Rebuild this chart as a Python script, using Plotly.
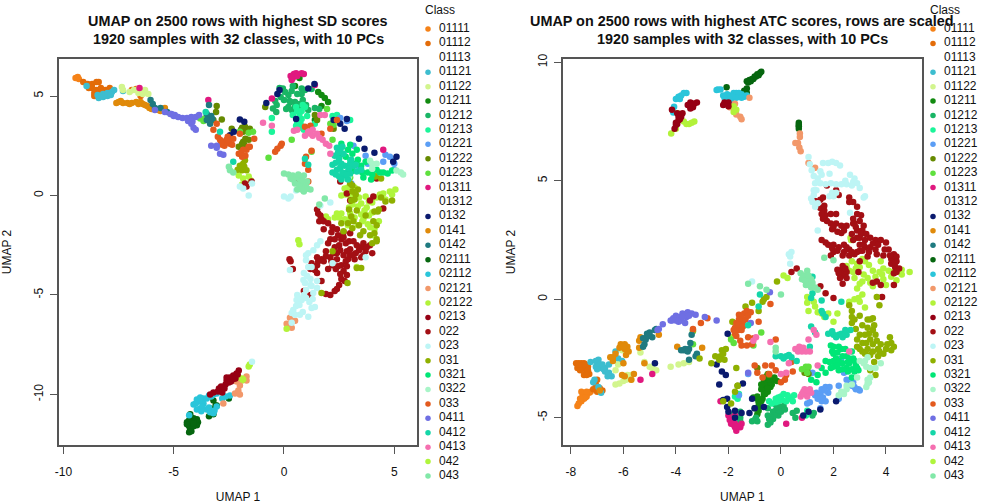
import plotly.graph_objects as go

classes = ["01111","01112","01113","01121","01122","01211","01212","01213","01221","01222","01223","01311","01312","0132","0141","0142",
           "02111","02112","02121","02122","0213","022","023","031","0321","0322","033","0411","0412","0413","042","043"]
colors = ["#F58218","#E36C09","#FFFFFF","#3DBDCF","#D2F58E","#128A10","#19B565","#1BF59A","#5B9EF5","#668A00","#5FE03E","#E0187F","#FFFFFF","#0A1A6E","#E08A0A","#1F7A80",
          "#06660F","#2AC5DA","#F2986A","#B3F23A","#960014","#A30F14","#BDF5F5","#8FB000","#00E676","#A8F5C8","#E35A1E","#6F6FE3","#14D6A8","#F56FB0","#B0F53C","#82E8A8"]
title_left = ["UMAP on 2500 rows with highest SD scores", "1920 samples with 32 classes, with 10 PCs"]
title_right = ["UMAP on 2500 rows with highest ATC scores, rows are scaled", "1920 samples with 32 classes, with 10 PCs"]

# ---- left panel (SD) ----
SD_01111 = [(-9.45,5.9),(-9.3,5.85),(-9.35,5.95)]
SD_01112 = [(-9.1,5.7),(-8.9,5.6),(-8.7,5.6),(-8.5,5.7),(-8.4,5.7),(-8.7,5.4),(-8.5,5.3),(-8.6,5.0),(-8.4,5.0),(-8.3,5.4),(-8.1,5.3),(-7.9,5.4),(-6.9,5.3),(-6.7,5.35),(-6.5,5.0),(-8.85,5.4),(-8.6,5.15),(-8.8,5.5),(-8.25,5.2),(-8.05,5.2)]
SD_01121 = [(-8.95,5.5),(-8.4,4.9),(-8.2,4.95),(-8.0,5.0),(-7.8,5.2),(-7.7,5.3),(-8.2,5.1),(-7.3,5.25),(-8.3,5.0),(-8.1,5.05),(-8.0,5.15),(-7.85,5.05),(-8.45,5.05)]
SD_01122 = [(-7.35,5.45),(-7.0,5.2),(-6.8,5.3),(-6.6,5.35),(-6.3,5.3),(-6.15,5.1),(-6.6,5.15),(-6.4,5.1),(-7.3,5.3)]
SD_01211 = [(1.7,5.05),(1.85,4.9),(2.0,4.7),(1.55,5.2),(0.7,5.9),(1.7,4.5),(1.5,3.95),(1.4,3.8),(0.5,5.5)]
SD_01212 = [(-0.05,5.38),(0.4,5.5),(0.8,5.38),(0.2,5.05),(-0.5,4.37),(-0.33,4.55),(0,4.8),(0.5,4.45),(0.7,4.35),(0.5,4.7),(0.2,4.45),(0.85,4.8),(0.8,5.1),(1.1,4.3),(1.6,4.35),(0.3,4.7),(0.95,5.3),(-0.2,5.4),(0.25,4.75),(0.55,4.4),(0.05,5.2),(0.35,5.25),(0.6,5.1),(-0.15,4.95),(-0.4,4.75),(0.1,4.35),(0.35,4.3),(0.7,4.6),(1.0,4.55),(1.25,5.35),(1.4,4.4),(-0.35,4.2)]
SD_01213 = [(0.55,4.45),(0.7,4.1),(0.65,3.85),(0.55,3.5),(0.95,4.45),(0.4,4.05),(-0.55,3.9),(-0.55,3.2),(1.4,3.6),(2.2,4),(2.4,4.05),(3,3.8),(0.8,3.85),(3,1.8),(3.3,1.6),(1.05,4.0),(0.75,3.6),(0.6,4.25),(0.8,4.25),(0.6,3.65),(0.7,3.4),(0.9,3.3),(0.85,4.55)]
SD_01221 = [(3.15,2.5),(3.7,2.0),(3.75,1.7),(3.8,1.6),(4.6,2.05),(4.8,1.95),(4.95,1.8),(5,1.6),(4.5,1.7),(3.05,0.6),(3.4,1.45),(2.55,3.9),(2.85,3.75),(5.0,1.3)]
SD_01222 = [(-3.05,4.5),(-3.08,4.2),(-2.82,3.82),(-3.2,3.8),(-2.37,3.35),(-1.9,3.4),(-1.77,3.45),(-1.55,3.35),(-1.85,2.7),(-1.6,2.8),(-2.05,2.45),(-1.9,2.6),(-0.85,4.45),(1.4,4.05),(1.5,3.8),(2.25,3.35),(-1.85,3.2),(-1.85,3.35),(-1.7,3.25),(-1.95,3.3),(-1.75,2.85),(-1.8,2.55)]
SD_01223 = [(-3.8,3.87),(-3.65,3.75),(-3.55,3.9),(-1.6,3.15),(-1.4,3.2),(-2.0,3.2),(0.35,2.8),(1.25,2.2),(2.25,3.55),(2.1,3.6),(1.95,4.35),(2.2,2.8),(-0.7,1.9),(4.1,1.0),(3.0,0.9)]
SD_01311 = [(-6.55,5.4),(-3.43,4.8),(0.3,6.0),(0.35,5.8),(0.45,6.1),(0.55,6.15),(0.4,5.9),(0.6,6.0),(0.8,6.15),(0.9,6.1),(-0.55,4.88),(1.4,5.55),(4.5,2.3)]
SD_0132 = [(-2.0,3.82),(-1.8,3.7),(-2.27,3.2),(-2.45,3.03),(-0.8,4.65),(-0.2,5.3),(-0.3,5.1),(0.55,3.85),(1.1,5.38),(1.38,5.6),(2.25,3.8),(2.55,3.6),(2.85,3.85),(2.75,3.35),(3.4,2.85),(3.65,2.35),(4.1,2.15),(5.1,1.95),(4.95,1.7)]
SD_0141 = [(-7.5,4.7),(-7.3,4.65),(-7.1,4.65),(-6.9,4.65),(-6.7,4.7),(-6.5,4.7),(-6.4,4.6),(-6.2,4.5),(-6.1,4.4),(-5.9,4.4),(-5.7,4.3),(-5.5,4.35),(-5.4,4.4),(-7.4,4.75),(-7.0,4.6),(-6.6,4.6),(-6.3,4.55),(-6.0,4.35),(-7.6,4.65),(-5.6,4.25)]
SD_0142 = [(-6.05,4.8),(-5.95,4.6),(-5.85,4.4),(-5.6,4.4),(-5.3,4.2),(-3.5,4.1),(-3.4,3.95),(-3.3,4.0),(-3.25,3.85),(-3.5,3.8),(-3.4,4.55),(-3.35,3.6)]
SD_02111 = [(-3.2,-10.3),(-3.1,-10.55),(-3.35,-10.7),(-3.05,-10.55),(-3.2,-11),(-3.4,-11.1),(-2.5,-10.2),(-4.25,-11),(-4.2,-11.25),(-4.4,-11.4),(-4.25,-11.5),(-4,-11.4),(-3.9,-11.4),(-3.95,-11.55),(-4.25,-11.75),(-4.3,-11.6),(-4.1,-11.6),(-4.1,-11.2),(-4.15,-11.35),(-4.3,-11.3),(-3.95,-11.25),(-4.1,-11.45),(-4.3,-11.9),(-4.2,-11.85),(-4.4,-11.5)]
SD_02112 = [(-3.05,-9.95),(-3.4,-10.05),(-3.65,-10.2),(-3.95,-10.25),(-4.1,-10.5),(-3.8,-10.7),(-3.5,-10.75),(-3.2,-10.95),(-3.05,-10.6),(-2.8,-10.2),(-2.45,-10.05),(-3.65,-10.45),(-3.95,-10.75),(-3.5,-10.2),(-4.3,-11.05),(-3.35,-10.9),(-3.8,-10.15),(-3.85,-10.35),(-3.7,-10.6),(-3.3,-10.1),(-3.2,-10.0),(-3.4,-10.65),(-2.65,-10.1),(-4.0,-10.45),(-3.75,-10.85),(-3.15,-10.8)]
SD_02121 = [(0.12,-6.45),(0.27,-6.15),(0.5,-6.3),(0.35,-6.65),(-2.22,-9.95),(-2.07,-9.8),(-2,-9.55),(-1.7,-9.1),(-1.7,-9.3),(-2.75,-10.45),(-2.15,-9.35),(-2.0,-10.0)]
SD_02122 = [(0.12,-6.7),(-1.9,-9.2),(-1.85,-9.25),(-2.05,-9.15)]
SD_0213 = [(-2.05,-8.8),(-2.3,-9.05),(-2.45,-9.15),(-2.6,-9.3),(-2.65,-9.5),(-2.95,-9.7),(-2.8,-9.9),(-3.2,-9.9),(-3.35,-10),(-2.15,-8.95),(-2.4,-9.35),(-2.6,-9.15),(-2.1,-9.0),(-2.25,-9.2),(-2.35,-9.25),(-2.5,-9.4),(-2.85,-9.6),(-3.0,-9.85),(-2.2,-9.2),(-2.7,-9.7)]
SD_022 = [(-1.47,0.7),(-1.77,0.6),(-1.7,0.45),(0.5,0.75),(0.55,0.65),(2.55,0.7),(4.2,0.85),(4.05,-0.05),(3.9,-0.25),(4.5,-0.65),(2.85,0.1),(3.0,-0.25),
          (1.5,-0.7),(1.65,-1.0),(1.6,-1.3),(1.8,-1.3),(1.8,-1.7),(2.2,-1.6),(2.4,-1.7),(2.7,-1.85),(3.0,-1.9),(2.1,-2.2),(2.3,-2.2),(2.0,-2.4),(2.3,-2.6),(2.6,-2.2),(2.8,-2.4),(3,-2.7),(3.3,-2.5),(3.5,-2.6),(3.7,-2.8),(3.9,-2.5),(4.0,-2.9),(2.4,-2.9),(2.7,-3),(2.1,-3.1),(3.0,-3.0),(3.2,-3.2),(1.7,-3.2),(1.8,-3.3),(1.5,-3.1),(1.25,-3.4),(1.5,-3.5),(1.2,-3.7),(1.5,-3.9),(2.2,-3.5),(2.35,-3.7),(2.7,-3.8),(2.85,-4.0),(2.6,-4.2),(2.5,-4.5),(2.3,-4.8),(2.1,-5.0),(2.6,-3.5),(2.0,-3.7),(1.2,-5.0),(0.9,-4.8),(0.3,-3.3),(0.4,-3.7),(0.25,-3.2),(1.9,-2.8),(3.5,-3.1),(2.5,-2.5),
          (1.55,-0.9),(1.7,-1.2),(2.0,-1.4),(2.15,-1.85),(2.45,-2.0),(2.7,-2.1),(2.95,-2.3),(3.15,-2.3),(3.4,-2.75),(3.6,-2.4),(3.75,-2.6),(2.25,-2.9),(2.55,-2.75),(2.85,-2.8),(3.25,-2.9),(1.9,-3.05),(2.4,-3.2),(2.8,-3.3),(1.55,-3.3),(1.4,-3.75),(2.15,-3.3),(2.45,-3.55),(2.85,-3.55),(2.55,-3.95),(2.75,-4.3),(2.4,-4.7),(1.9,-4.95),(1.7,-4.3),(2.9,-3.2),(3.1,-3.0),(3.6,-3.0)]
SD_023 = [(-2.0,0.45),(-1.85,0.35),(-1.6,0.0),(-1.45,0.6),(0,-0.05),(0.2,-0.15),(0.3,-0.05),(0.55,0.25),(1.65,-0.5),(2.1,-0.35),(-1.45,-8.35),
          (0.88,-4.25),(0.95,-4.4),(1.0,-4.75),(1.33,-4.9),(1.4,-5.6),(1.25,-5.65),(0.57,-5.25),(0.42,-5.75),(0.8,-5.25),(1.1,-6.1),(0.72,-6),(0.35,-5.9),(0.35,-6.4),(0.27,-3.75),(1,-3.25),(1.25,-3.6),(1.33,-2.75),(1.5,-4.65),(2.2,-3.4),(3.7,-3.1),(1.5,-2.5),(0.9,-3.9),(0.6,-5.0),(0.9,-5.0),(1.2,-4.2),
          (1.1,-3.6),(1.05,-4.05),(1.2,-4.5),(1.0,-5.15),(1.15,-5.35),(0.7,-5.5),(0.55,-5.55),(1.3,-5.2),(0.65,-5.15),(1.25,-4.55),(1.5,-4.3),(1.0,-3.0),(1.1,-2.9),(1.65,-2.3),(0.85,-5.85),(0.5,-6.0)]
SD_031 = [(-1.85,1.6),(-1.9,1.27),(-2.0,1.5),(-1.7,1.27),(-1.77,1.77),(3.0,0.6),(3.1,0.2),(3.35,0.3),(3.2,-0.2),(4.15,0.95),(4.4,0.85),(4.05,-1.3),(4.4,-0.1),(4.9,-0.25),(4.6,-0.3),(3.3,-0.75),(3.05,-1.05),(3.15,-1.3),(4.1,-0.8),(4.25,-0.8),(4.3,-0.7),(3.45,-2.0),(3.6,-1.8),(2.9,-1.4),(2.7,-1.8),(4.1,-1.9),(4.2,-2.3),(4.2,-2.2),(3.1,0.5),(2.88,-4.4),(1.7,-4.9),(3.3,-3.65),(3.5,-3.65),(2.2,-2.8),
          (3.25,0.05),(3.05,-0.25),(2.95,-0.7),(3.1,-1.65),(3.4,-1.5),(2.6,-1.4),(4.2,-1.5),(3.9,-2.0),(4.0,-2.4),(3.7,-1.0),(-1.95,1.4),(-2.1,1.3),(-1.8,1.45)]
SD_0321 = [(2.9,2.3),(3.1,2.1),(3.2,1.6),(3.5,1.5),(3.7,1.7),(4.2,1.3),(4.0,1.05),(3.8,1.15),(2.6,2.6),(2.8,1.95),(3.05,1.2),(4.9,1.25),(4.5,1.15),(3.6,0.9),(3.95,0.8),(2.95,1.5),(3.1,1.4),(3.35,1.8),(3.55,1.15),(4.35,1.15),(4.7,1.1),(3.3,2.3),(3.0,2.55),(2.55,2.05)]
SD_0322 = [(3.9,1.75),(4,1.6),(5.3,1.15),(5.4,1.05),(4,1.35),(2.95,0.95),(2.8,0.85),(4.2,1.6),(5.1,1.25)]
SD_033 = [(-3.2,3.3),(-3.05,3.6),(-3,2.95),(-2.6,2.8),(-2.75,2.7),(-2.45,2.6),(-2.9,2.8),(-2.7,2.5),(-2.3,2.85),(-2,3.1),(-1.55,2.45),(-1.35,2.85),(-1.75,2.0),(-1.9,1.95),(-1.7,2.3),(-1.6,2.45),(-2.05,2.1),(-0.4,2.2),(-0.3,2.35),(-0.15,2.5),(-0.1,2.6),(0.95,3.45),(1.2,3.5),(1.1,3.2),(1.0,1.95),(0.95,1.6),(1.1,1.3),(1.1,0.7),(1.25,2.25),(1.7,3.1),(2.1,3.35),(2.4,3.8),(-2.8,2.55),(-2.55,2.95),(-2.65,2.65),(-2.5,2.75),(-2.85,2.65),(-1.95,2.15),(-1.85,2.3),(-2.35,2.55)]
SD_0411 = [(-5.85,4.3),(-5.4,4.2),(-5.1,4.1),(-4.95,4.05),(-5.15,4.1),(-5,4),(-4.8,3.95),(-4.6,3.9),(-4.4,3.9),(-4.2,3.95),(-4.0,3.95),(-3.85,4.05),(-4.35,3.75),(-4.2,3.6),(-4.1,3.4),(-4.0,3.3),(-4.15,3.7),(-3.3,2.5),(-3.05,2.5),(-2.9,2.1),(-2.75,2.05),(-3.05,2.4)]
SD_0412 = [(-3.55,4.2),(-2.9,3.2),(-2.3,1.7),(2.4,2.4),(2.55,2.3),(2.7,2.1),(2.3,2.0),(2.5,1.85),(2.6,1.6),(2.75,1.5),(2.9,1.2),(2.4,1.3),(3.15,1.5),(3.0,1.1),(2.2,1.55),(2.2,1.15),(2.5,0.95),(2.75,1.0),(2.9,0.8),(3.3,1.2),(1.1,1.55),(0.95,1.85),(3.5,1.3),(2.65,1.15),(3.0,1.6),(2.35,1.65),(2.55,1.4),(2.85,1.05),(2.95,1.35),(3.25,1.55),(2.45,2.15),(2.65,2.45),(2.35,1.05),(2.6,0.8),(3.05,1.8)]
SD_0413 = [(-0.95,3.65),(-0.55,3.5),(0.45,3.25),(0.6,3.3),(1.1,3.2),(1.2,3.1),(1.3,3.0),(0.95,3.0),(1.3,3.3),(1.6,2.9),(1.75,2.8),(1.9,2.6),(2.05,2.5),(1.65,4.05),(1.85,4.05),(2.1,2.1),(1.5,3.1)]
SD_042 = [(2.9,0.4),(3,0.5),(2.75,0.35),(2.6,0),(2.8,0.05),(3.2,0.4),(3.4,-0.1),(3.7,-0.05),(4.2,-0.1),(4.5,0.1),(4.8,0.2),(5.05,0.3),(4.6,-0.2),(3.1,-0.45),(3.35,-0.55),(3.75,-0.6),(4,-0.85),(3.2,-1.1),(3.55,-1.3),(1.9,-1.05),(2.3,-1.1),(2.5,-1.1),(2.6,-0.9),(2.9,-1.5),(3.6,-1.2),(3.9,-1.6),(4.1,-1.7),(0.65,-2.25),(0.7,-2.45),(-2.05,1.0),(-1.85,0.85),(-1.6,0.95),(-1.5,0.75),(-1.9,0.55),(-1.55,-8.5),(-1.6,-8.6),(-1.9,-9.3),(3.3,-3.6),
          (2.4,-0.9),(2.0,-1.2),(2.75,-1.2),(3.0,-0.9),(3.5,-0.95),(3.85,-1.0),(4.3,-1.3),(3.85,-0.3),(4.35,0.05),(4.9,0.05),(3.0,0.0),(3.25,0.0),(2.95,-0.6),(3.5,-0.4),(4.0,-0.35),(3.65,-0.75),(3.35,-1.5),(3.8,-1.45),(4.05,-2.0),(3.0,-1.15)]
SD_043 = [(0,1.1),(0.2,1.05),(0.4,1),(0.55,0.9),(0.7,0.85),(0.9,1.0),(0.8,0.6),(0.9,0.4),(0.95,0.3),(1.2,0.3),(0.7,0.4),(0.6,0.3),(1.05,0.7),(0.9,0.2),(1.85,-0.15),(1.6,-0.45),(-2.5,1.45),(-2.45,1.27),(-2.3,1.15),(0.3,0.85),(0.75,0.65),(0.5,0.6),(0.7,0.55),(1.0,0.45),(0.85,0.75),(0.4,0.8),(0.65,1.05),(1.05,0.35),(0.8,0.3)]

# ---- right panel (ATC) ----
AT_01111 = [(-7.75,-4.5),(-7.7,-4.4),(-7.6,-4.3),(-7.55,-4.05),(-7.45,-4.0),(-7.3,-3.95),(-7.25,-3.9),(-7.4,-4.1),(-7.5,-4.2),(-7.6,-3.9),(-7.45,-4.15),(-7.65,-4.2),(-7.4,-3.9)]
AT_01112 = [(-7.8,-2.7),(-7.7,-2.7),(-7.6,-2.7),(-7.5,-2.7),(-7.75,-2.9),(-7.6,-2.95),(-7.45,-2.9),(-7.4,-3.05),(-7.3,-3.15),(-7.5,-3.2),(-7.35,-2.85),(-7,-3.4),(-7.05,-3.6),(-7.15,-3.8),(-6.9,-3.75),(-7.0,-3.9),(-6.8,-3.85),(-7.65,-2.85),(-7.55,-2.8),(-7.7,-2.8),(-7.45,-2.75),(-7.35,-3.0),(-7.4,-3.2),(-7.65,-3.0)]
AT_01121 = [(-7.25,-2.65),(-7.05,-2.6),(-6.95,-2.55),(-7.05,-2.85),(-6.85,-2.9),(-6.7,-2.9),(-6.55,-2.75),(-6.9,-2.75),(-6.45,-3.25),(-6.6,-3.25),(-6.7,-3.05),(-6.3,-2.2),(-6.2,-2.5),(-6.05,-2.6),(-7.1,-3.4),(-7.15,-3.5),(-6.95,-3.7),(-6.85,-3.95),(-6.95,-2.85),(-6.8,-2.75),(-7,-2.95),(-6.75,-2.95),(-6.55,-3.1)]
AT_01122 = [(-6.3,-3.6),(-6.15,-3.55),(-6,-3.45),(-5.9,-3.4),(-5.85,-3.2),(-5.7,-3.2),(-5.7,-3.4),(-6.2,-2.75),(-6.3,-3.0),(-6.05,-2.15),(-5.35,-2.25),(-5.2,-2.65),(-5,-2.85),(-4.9,-2.9),(-4.75,-3),(-4.2,-2.85),(-3.9,-2.75),(-3.7,-2.7),(-3.5,-2.65)]
AT_01211 = [(-0.7,-3.6),(-0.6,-3.8),(-0.5,-3.9),(-0.4,-3.7),(-0.65,-3.4),(-0.55,-3.25),(-0.3,-3.4),(-0.15,-3.45),(-0.35,-3.6),(-0.25,-3.3),(-0.7,-4.2),(-0.9,-4.2),(-1.05,-4.15),(-0.75,-4.3),(-0.9,-4.6),(-0.85,-4.5),(-0.9,-4.85),(-1,-4.6),(-0.65,-4.0),(-0.55,-3.55),(-0.5,-3.75),(-0.75,-3.8),(-0.75,-3.6),(-0.6,-4.0),(-0.4,-3.5),(-0.45,-3.4),(-0.85,-4.35),(-0.85,-4.7),(-0.9,-4.1)]
AT_01212 = [(-1.1,-5.15),(-0.9,-5.15),(-0.95,-5),(-0.5,-5.3),(-0.3,-5.05),(-0.4,-5.2),(-0.1,-4.9),(-0.2,-4.7),(-0.05,-4.6),(0,-4.75),(0.1,-4.5),(-0.2,-4.45),(-0.5,-4.9),(-0.1,-4.5),(0.45,-4.8),(0.55,-5),(0.6,-4.7),(1.25,-4.8),(1.2,-4.9),(-1.55,-5.0),(-1.55,-5.15),(-1.55,-4.75),(-1.95,-4.85),(-0.5,-4.6),(-0.3,-4.75),(-0.1,-4.7),(-0.25,-4.9),(-0.15,-4.55),(-0.4,-4.95),(-1.0,-5.1),(-0.45,-5.05),(0.15,-4.65)]
AT_01213 = [(-0.35,-4.4),(-0.2,-4.2),(0,-4.1),(0.1,-4),(0.3,-4.2),(0.4,-4.15),(0.2,-4.3),(-0.1,-4.3),(0.5,-4.05),(-1.75,-4.1),(-1.65,-4.2),(-1.6,-4),(1.0,-4.7),(0.95,-4.9),(-0.2,-4.35),(0.05,-4.25),(0.25,-4.05),(0.45,-4.3),(-0.1,-4.15),(-0.45,-4.3)]
AT_01221 = [(1.3,-4.05),(1.55,-4.3),(1.5,-4.0),(1.55,-3.8),(1.7,-3.7),(1.85,-3.7),(1.8,-3.95),(1.4,-4.2),(1.1,-4.35),(1,-4.4),(1.5,-4.6),(1.7,-4.3),(2.2,-3.65),(2.6,-3.55),(2.7,-3.65),(2.8,-3.7),(2.95,-3.8),(3,-3.85),(2.5,-3.4),(2.2,-4.2),(1.2,-3.1),(2.25,-2.7),(2.3,-2.5),(2.4,-3.1),(-1.6,-4.05),(-1.25,-3.15),(1.65,-3.85),(1.45,-4.1),(1.6,-4.15),(1.35,-3.95),(2.75,-3.5),(2.85,-3.8)]
AT_01222 = [(-1.65,-3.65),(1,-2.95),(-0.9,-2.9),(0.95,-3),(0.9,-3.1),(1.05,-3.15),(-0.5,-3.15),(-0.45,-3.2)]
AT_01223 = [(0.8,-2.95),(0.95,-2.85),(1.0,-3.1),(1.05,-2.85),(-1.05,-1.95),(-1.9,-1.7),(-1.8,-1.85),(-3.35,-1.35),(-3.35,-1.9),(-0.75,-1.4)]
AT_01311 = [(-5.35,-3.4),(-4.9,-3.15),(-2.3,-4.3),(-2.0,-4.9),(-1.95,-5.1),(-1.85,-5.2),(-1.75,-5.4),(-1.7,-5.55),(-1.8,-5.3),(-1.55,-5.4),(-1.5,-5.25),(-1.75,-4.9),(0.2,-5.25),(0.8,-5),(-1.85,-5.1),(-1.75,-5.25),(-1.9,-5.25),(-1.65,-5.35)]
AT_0132 = [(-4.8,-2.7),(-2.45,-2.75),(-2.25,-3.05),(-2.1,-3.2),(-2.35,-3.6),(-2.03,-1.45),(-1.45,-3.55),(-2.2,-4.25),(-2.05,-4.2),(-2.05,-4.55),(-1.75,-4.7),(-1.5,-4.8),(-1.75,-5),(-2,-4.75),(-1.2,-4.8),(-1.0,-4.6),(-1.1,-4.2),(-0.65,-4.55),(0.85,-4.9),(1.05,-4.75),(1.5,-4.65),(2.1,-4.3)]
AT_0141 = [(-6.1,-1.9),(-5.95,-1.9),(-5.85,-2.0),(-6.15,-2.05),(-5.9,-2.35),(-5.8,-2.2),(-6,-2.7),(-6.5,-2.45),(-6.4,-2.6),(-6.3,-2.3),(-5.4,-1.75),(-5.35,-1.6),(-5.1,-1.55),(-5.4,-2.05),(-5.2,-2.7),(-3.95,-2),(-3.35,-1.3),(-4.65,-1.5),(-6.05,-3.2),(-5.95,-3.25),(-5.6,-3.15),(-5.7,-3.4),(-6.9,-3.85),(-3,-2.05),(-5.95,-2.1),(-6.0,-2.0),(-6.4,-2.45)]
AT_0142 = [(-5.1,-1.45),(-5.0,-1.4),(-4.8,-1.3),(-4.75,-1.25),(-4.9,-1.6),(-5.25,-1.65),(-5.25,-2.0),(-5.2,-1.9),(-3.7,-2.15),(-3.6,-2.15),(-3.5,-2.1),(-3.8,-2.15),(-3.45,-1.85),(-3.4,-1.5),(-3.2,-2.3),(-3.25,-2.4),(-3.5,-2.55),(-3.65,-2.1),(-3.55,-2.2),(-5.15,-1.7),(-5.05,-1.55)]
AT_02111 = [(-1.3,9.2),(-1.2,9.25),(-1.1,9.3),(-1.0,9.4),(-0.9,9.5),(-0.8,9.55),(-0.75,9.6),(-2.07,8.95),(-1.3,8.9),(-1.3,8.7),(-1.4,8.8),(0.68,7.45),(0.68,7.3),(0.68,7.2),(-1.15,9.2),(-1.25,9.15),(-1.05,9.3),(-0.95,9.4),(-0.85,9.45),(0.68,7.35)]
AT_02112 = [(-4.0,8.45),(-3.9,8.55),(-3.8,8.6),(-3.7,8.7),(-3.6,8.7),(-3.85,8.45),(-4.07,8.13),(-4.1,7.88),(-2.45,8.83),(-2.3,8.85),(-2.4,8.85),(-2.2,8.6),(-2.1,8.4),(-2,8.5),(-1.9,8.4),(-1.8,8.7),(-1.7,8.7),(-1.6,8.7),(-1.5,8.65),(-1.4,8.55),(-1.3,8.6),(-2.05,8.65),(-1.95,8.6),(-1.7,8.5),(-1.85,8.55),(-2.15,8.5),(-1.5,8.5)]
AT_02121 = [(-1.2,8.5),(-1.95,8.1),(-1.75,8.25),(-1.7,7.8),(-1.55,7.7),(-1.5,7.6),(0.72,7.0),(0.72,6.85),(0.65,6.6),(0.7,6.4),(0.75,6.25),(0.55,6.6),(1.05,5.75),(1.3,5.55)]
AT_02122 = [(-4.18,7.0),(-4.0,7.2),(-3.93,7.85),(-3.7,7.5),(-3.6,7.4),(-3.5,7.4),(-3.4,7.45),(-3.3,7.5),(-1.8,8.15),(-1.8,7.9),(-1.7,8.0),(2.67,2.5),(2.65,2.6)]
AT_0213 = [(-3.46,8.16),(-3.45,8.3),(-3.35,8.1),(-3.3,8.25),(-3.55,8.2),(-3.2,8.3),(-4.15,8.0),(-3.95,7.85),(-3.8,7.7),(-3.75,7.85),(-3.9,7.55),(-4.0,7.35),(-4.05,7.2),(-3.95,7.4),(-2.15,8.3),(-2.0,8.3),(-2.2,8.2),(-2.0,8.15),(-3.35,8.25),(-3.45,8.05),(-3.85,7.6),(-3.9,7.7),(-4.0,7.45)]
AT_022 = [(1.3,4.15),(1.5,4.2),(1.5,3.85),(1.65,3.75),(1.7,3.55),(1.6,3.4),(1.9,3.6),(2.1,3.6),(1.75,4.8),(2.1,4.6),(2.2,4.4),(2.6,4.3),(2.75,4.1),(2.9,3.9),(2.75,3.4),(3,3.3),(3.15,3.1),(1.9,3.2),(2.1,3.2),(2.3,3.1),(2.5,3.1),(1.95,2.95),(2.3,2.8),(2.8,3.2),(2.9,2.9),(2.9,2.6),(3.1,2.9),(3.2,2.5),(3.0,2.3),(3.4,2.6),(3.6,2.5),(3.8,2.5),(4.0,2.4),(1.55,2.5),(1.8,2.3),(2,2.3),(2.2,2.2),(2.4,2.3),(2.6,2.1),(2.9,2.0),(3.2,2.2),(3.4,2.2),(3.6,2.1),(3.9,1.85),(4.1,2.1),(4.3,1.9),(4.4,1.8),(2.0,2.0),(2.4,2),(2.8,1.9),(3.0,2.05),(3.3,1.8),(4.2,1.7),(4.4,1.6),(4.35,1.35),(4.5,1.3),(4.3,1.1),(2.15,1.25),(2.3,1.2),(2.4,1.0),(2.5,1.15),(2.35,1.4),(2.5,0.9),(2.35,0.65),(3.65,0.75),(3.5,0.7),(3.8,0.6),(3.0,1.6),(2.0,0.05),(3.85,0.1),(1.7,0.25),(1.5,0.55),(4.3,0.6),(2.95,1.15),(0.4,1.15),(0.6,1.3),
          (1.6,4.3),(1.65,3.95),(1.55,3.6),(1.75,3.3),(2.0,3.05),(2.4,2.9),(2.15,2.85),(2.7,2.75),(2.75,2.5),(3.0,2.6),(3.05,2.75),(3.25,2.75),(3.15,2.3),(3.5,2.35),(3.7,2.3),(1.7,2.4),(1.95,2.15),(2.15,2.05),(2.5,2.2),(2.7,2.0),(2.35,1.85),(3.1,2.05),(3.35,2.0),(3.65,1.9),(3.95,2.1),(4.15,1.85),(4.2,1.5),(4.35,1.55),(4.4,1.15),(2.2,1.1),(2.45,1.3),(2.25,0.9),(2.6,1.85),(1.9,1.85),(2.75,3.2),(2.85,3.05),(2.6,4.1),(2.9,3.6),(3.05,3.55)]
AT_023 = [(1.05,6.0),(1.1,5.7),(1.17,5.45),(1.5,5.4),(1.85,5.3),(1.25,5.2),(1.3,4.9),(1.6,5.75),(1.8,5.75),(1.95,5.8),(2.1,5.75),(2.25,5.65),(2.63,5.25),(2.8,5.1),(2.9,4.9),(3.0,4.7),(3.15,4.3),(1.5,4.9),(1.7,4.85),(1.9,4.9),(2.1,4.85),(2.3,4.85),(2.5,4.85),(2.7,4.8),(1.25,4.6),(1.25,4.4),(1.2,4.1),(1.3,3.9),(1.85,4.35),(2.0,4.35),(2.1,4.5),(1.4,2.9),(3.2,4.35),(2.63,3.65),(0.4,2.0),(0.35,1.8),(0.3,1.9),(0.35,1.5),(-1.1,0.75),(1.4,5.1),(1.35,4.6),(1.15,4.25),(2.45,5.0),(2.75,4.95),(1.95,4.5),(1.4,4.05),(1.55,5.25)]
AT_031 = [(2.7,-0.5),(2.7,-0.75),(2.7,-1.0),(2.8,-0.85),(3.0,-0.7),(3.3,-0.85),(3.4,-0.85),(3.5,-0.8),(3.3,-1.2),(3.5,-1.3),(3.6,-1.5),(3.4,-1.7),(3.0,-1.5),(3.1,-1.85),(2.9,-2.0),(3.1,-2.2),(3.3,-2.1),(3.5,-2.2),(3.7,-2.1),(3.7,-2.4),(3.9,-2.3),(4,-2.1),(4.2,-2.15),(4.2,-1.85),(4.15,-1.6),(3.8,-1.9),(3.4,-2.35),(3.55,-2.65),(3.65,0.1),(3.75,-0.25),(2.6,-0.25),(3.4,-3.0),(3.6,-3.2),(-2.3,-2.4),(-2.15,-2.55),(-2.5,-2.4),(-2.25,-2.15),(-2.1,-2.1),(-2.65,-2.7),(-3.1,-2.5),(-1.7,-2.9),(-1.65,-3.65),(-1.9,-4.4),(-2.2,-4.3),(-1.75,-3.9),(-0.15,0.75),(-0.65,0),(-0.55,0.1),(-1.35,-0.3),(-1.1,-0.15),(-0.85,-0.5),(-1.85,-0.95),
          (3.1,-1.1),(3.2,-1.5),(3.35,-1.45),(3.55,-1.1),(2.85,-1.25),(2.9,-1.7),(3.25,-1.85),(3.5,-1.9),(3.65,-1.75),(3.0,-2.1),(3.75,-2.2),(4.05,-1.9),(4.3,-2.0),(3.2,-2.3),(-2.35,-2.55),(-2.2,-2.3),(-0.7,-0.1)]
AT_0321 = [(1.9,-1.95),(2,-2),(2.2,-2),(2.3,-2.1),(2,-2.3),(2.1,-2.5),(2,-2.6),(2.2,-2.6),(2.5,-2.4),(2.6,-2.5),(2.75,-2.5),(2.7,-2.2),(2.8,-2.6),(2.6,-2.7),(2.5,-2.9),(2.7,-2.95),(2.35,-2.7),(2.0,-2.85),(1.9,-2.9),(1.7,-2.6),(2.2,-3),(2.9,-2.9),(2.95,-3),(2.8,-3.05),(2.55,-3.05),(1.4,-3.2),(1.7,-3.1),(1.35,-3.5),(1.15,-3.4),(2.7,-3.3),(1.95,-2.2),(2.15,-2.25),(2.35,-2.4),(2.45,-2.1),(2.55,-2.65),(2.15,-2.8),(2.35,-2.95),(2.85,-2.8),(1.85,-2.65),(1.55,-2.9)]
AT_0322 = [(2.9,-3.3),(2.7,-3.6),(2.5,-3.8),(2.4,-4),(2.3,-3.9),(2.2,-4.05),(3.3,-3.4),(3.35,-3.5),(3.25,-3.7),(3.4,-3.3),(3.0,-2.6),(3.2,-2.6),(3.6,-2.9),(3.8,-2.7),(3.3,-2.45),(3.4,-2.9),(2.35,-3.95),(2.5,-3.65),(3.3,-3.55),(3.15,-2.7),(3.25,-2.85)]
AT_033 = [(-1.6,-0.65),(-1.4,-0.6),(-1.3,-0.5),(-1.15,-0.55),(-1.35,-0.85),(-1.7,-1.0),(-1.75,-1.2),(-1.6,-1.3),(-1.75,-1.45),(-1.5,-1.3),(-0.4,-0.2),(-0.85,-0.95),(-1.25,-1.6),(-1.05,-1.65),(-1.55,-1.75),(-1.5,-1.95),(-1.3,-1.95),(-1.1,-1.9),(-0.2,-1.7),(-1,-2.8),(-0.6,-2.8),(-0.35,-2.8),(-0.45,-3.15),(-0.9,-3.1),(0.2,-3.2),(0.15,-3.4),(0,-3.5),(0.4,-2.65),(0.45,-3.05),(-0.7,-3.3),(-0.2,-3.0),(-3.05,-1),(-2.8,-0.8),(-3.35,-1.25),(-1.5,-0.75),(-1.45,-0.95),(-1.6,-0.85),(-1.6,-1.05),(-1.45,-1.15),(-1.25,-0.7),(-1.8,-1.3),(-1.7,-1.55)]
AT_0411 = [(-4.2,-0.9),(-4.1,-0.8),(-4,-0.7),(-3.85,-0.75),(-3.75,-0.6),(-3.55,-0.55),(-3.4,-0.6),(-3.6,-0.75),(-3.9,-0.95),(-3.65,-1.0),(-3.25,-0.65),(-2.9,-0.75),(-2.45,-0.9),(-4.5,-1.05),(-4.65,-1.25),(-4.7,-1.3),(-1.15,-1.0),(-0.42,0.3),(-1.25,-3.1),(-4.0,-0.9),(-3.8,-0.9),(-3.5,-0.7),(-3.75,-0.75),(-4.15,-0.9)]
AT_0412 = [(1.55,-0.05),(1.15,0.05),(2.3,-0.1),(1.55,-0.5),(1.7,-0.75),(1.15,-1.15),(1.3,-1.4),(1.8,-1.45),(2,-1.5),(2.2,-1.5),(2.35,-1.6),(2.5,-1.5),(2.65,-1.3),(1.2,0.25),(1.2,0.95),(-0.2,-2.4),(0,-2.4),(0.2,-2.4),(0.4,-2.45),(0.6,-2.6),(-0.8,0.2),(-1.25,-1.1),(-0.85,-0.3),(1.1,-2),(1.95,-1.35),(2.1,-1.6),(2.3,-1.45),(2.45,-1.3),(1.6,-0.6),(0.1,-2.5),(0.3,-2.35)]
AT_0413 = [(1.25,-1.3),(1.35,-1.5),(1.05,-1.7),(0.55,-2.1),(0.7,-2.0),(0.85,-2.05),(1.1,-2.2),(0.95,-2.2),(-0.4,-1.8),(0.3,-2.7),(0.2,-3.1),(0,-3.15),(0.75,-4.1),(0.9,-4.0),(1,-3.9),(0.9,-3.8),(1.1,-3.8),(1.15,-3.95),(0.85,-3.9),(-1.05,-1.75),(-0.95,-1.6),(2.6,-2.2),(1.4,-2.8),(0.65,-2.2),(0.8,-2.2),(1.0,-4.1),(0.8,-4.0),(1.05,-3.85)]
AT_042 = [(2.5,1.4),(2.7,1.6),(2.9,1.5),(3.1,1.7),(3.2,1.6),(2.85,1.3),(2.75,1.15),(2.8,0.9),(3.3,0.9),(3.6,0.95),(3.1,0.75),(3.4,0.7),(3.8,1.6),(3.9,1.3),(4.1,1.2),(4.4,1.2),(4.6,1.25),(4.9,1.15),(4.6,1.05),(4.2,0.95),(3.9,0.85),(4.0,0.6),(1.0,0.1),(1.0,-0.15),(1.3,-0.3),(1.8,-0.6),(1.55,-0.6),(2.0,-0.95),(3,0.65),(3.1,0.2),(3,-0.1),(2.8,0),(2.6,-0.1),(0.1,1.0),(0.25,0.9),(-1.9,-1.6),(1.05,-0.5),
          (2.6,1.2),(3.0,1.35),(3.35,1.45),(3.5,1.2),(3.15,1.05),(3.75,1.15),(3.85,1.05),(4.25,1.15),(4.4,0.8),(3.5,0.55),(2.9,0.45),(3.2,-0.35),(2.95,0.05),(1.25,-0.1),(1.4,-0.55),(1.65,-0.75),(2.15,-0.6)]
AT_043 = [(0.75,1.1),(0.9,1.0),(1.0,0.8),(1.15,0.5),(1.3,0.5),(0.95,0.6),(1.2,0.7),(0.8,0.85),(1.0,1.2),(1.65,1.75),(2,1.65),(-0.8,0.55),(-0.55,0.4),(0,0.2),(-0.2,-2.05),(-0.2,-2.2),(-1.25,0.65),(0.85,0.95),(1.05,0.6),(1.15,0.85),(0.9,0.8),(1.05,1.0),(1.4,0.4)]

SD = [SD_01111,SD_01112,[],SD_01121,SD_01122,SD_01211,SD_01212,SD_01213,SD_01221,SD_01222,SD_01223,SD_01311,[],SD_0132,SD_0141,SD_0142,
      SD_02111,SD_02112,SD_02121,SD_02122,SD_0213,SD_022,SD_023,SD_031,SD_0321,SD_0322,SD_033,SD_0411,SD_0412,SD_0413,SD_042,SD_043]
AT = [AT_01111,AT_01112,[],AT_01121,AT_01122,AT_01211,AT_01212,AT_01213,AT_01221,AT_01222,AT_01223,AT_01311,[],AT_0132,AT_0141,AT_0142,
      AT_02111,AT_02112,AT_02121,AT_02122,AT_0213,AT_022,AT_023,AT_031,AT_0321,AT_0322,AT_033,AT_0411,AT_0412,AT_0413,AT_042,AT_043]

W, H = 1008, 504
FONT = "Liberation Sans"
INK = "#111111"
AX = "#555555"
fig = go.Figure()

# lime class drawn first so the red and olive classes show through it, as in the reference
draw_order = ["042"] + [c for c in classes if c != "042"]
for pts_all, xa, ya in [(SD, "x", "y"), (AT, "x2", "y2")]:
    for cls in draw_order:
        i = classes.index(cls)
        pts = pts_all[i]
        if not pts:
            continue
        fig.add_trace(go.Scatter(x=[p[0] for p in pts], y=[p[1] for p in pts], mode="markers", name=cls,
                                 xaxis=xa, yaxis=ya, showlegend=False,
                                 marker=dict(color=colors[i], size=6.5, line=dict(width=0)), hoverinfo="skip"))

rows = list(range(len(classes)))
for xa, ya in [("x3", "y3"), ("x4", "y4")]:
    fig.add_trace(go.Scatter(x=[0]*len(classes), y=rows, mode="markers", xaxis=xa, yaxis=ya, showlegend=False, cliponaxis=False,
                             marker=dict(color=colors, size=5.5, line=dict(width=0)), hoverinfo="skip"))
    fig.add_trace(go.Scatter(x=[11]*len(classes), y=rows, mode="text", text=classes, textposition="middle right", xaxis=xa, yaxis=ya,
                             showlegend=False, cliponaxis=False, textfont=dict(family=FONT, size=12, color=INK), hoverinfo="skip"))

def axis(domain, rng, ticks, title, anchor, angle=0, standoff=8, title_standoff=16):
    return dict(domain=domain, range=rng, tickmode="array", tickvals=ticks, ticktext=[str(t) for t in ticks],
                ticks="outside", ticklen=7, tickwidth=1, tickcolor=AX, showgrid=False, zeroline=False,
                showline=True, linecolor=AX, linewidth=1.5, mirror=True, anchor=anchor, tickangle=angle,
                ticklabelstandoff=standoff, tickfont=dict(family=FONT, size=12, color=INK),
                title=dict(text=title, font=dict(family=FONT, size=12, color=INK), standoff=title_standoff))

def label(text, px, py, bold=False, size=12, anchor="center"):
    shown = f"<b>{text}</b>" if bold else text
    return dict(text=shown, x=px/W, y=1-py/H, xref="paper", yref="paper", showarrow=False, xanchor=anchor, yanchor="middle",
                font=dict(family=FONT, size=size, color=INK))

yd = [1 - 445/H, 1 - 59/H]
fig.update_layout(
    width=W, height=H, margin=dict(l=0, r=0, t=0, b=0, autoexpand=False), paper_bgcolor="white", plot_bgcolor="white", showlegend=False,
    xaxis=axis([59/W, 417/W], [-10.2, 6.03], [-10,-5,0,5], "UMAP 1", "y"),
    yaxis=axis(yd, [-12.54, 6.86], [-10,-5,0,5], "UMAP 2", "x", angle=-90, standoff=2, title_standoff=18),
    xaxis2=axis([563/W, 921.7/W], [-8.3, 5.36], [-8,-6,-4,-2,0,2,4], "UMAP 1", "y2"),
    yaxis2=axis(yd, [-6.15, 10.14], [-5,0,5,10], "UMAP 2", "x2", angle=-90, standoff=2, title_standoff=18),
    xaxis3=dict(domain=[428/W, 528/W], range=[0,100], visible=False, anchor="y3"),
    yaxis3=dict(domain=[1-483.2/H, 1-21.8/H], range=[31.5,-0.5], visible=False, anchor="x3"),
    xaxis4=dict(domain=[933/W, 1008/W], range=[0,75], visible=False, anchor="y4"),
    yaxis4=dict(domain=[1-483.2/H, 1-21.8/H], range=[31.5,-0.5], visible=False, anchor="x4"),
    annotations=[
        label(title_left[0], 238, 21, True, 14.4), label(title_left[1], 238, 39, True, 14.4),
        label(title_right[0], 742, 21, True, 14.4), label(title_right[1], 742, 39, True, 14.4),
        label("Class", 423, 9.5, anchor="left"), label("Class", 927.5, 9.5, anchor="left"),
    ],
)
fig.write_html("out.html", post_script="document.body.style.margin='0';", config={"displayModeBar": False})
